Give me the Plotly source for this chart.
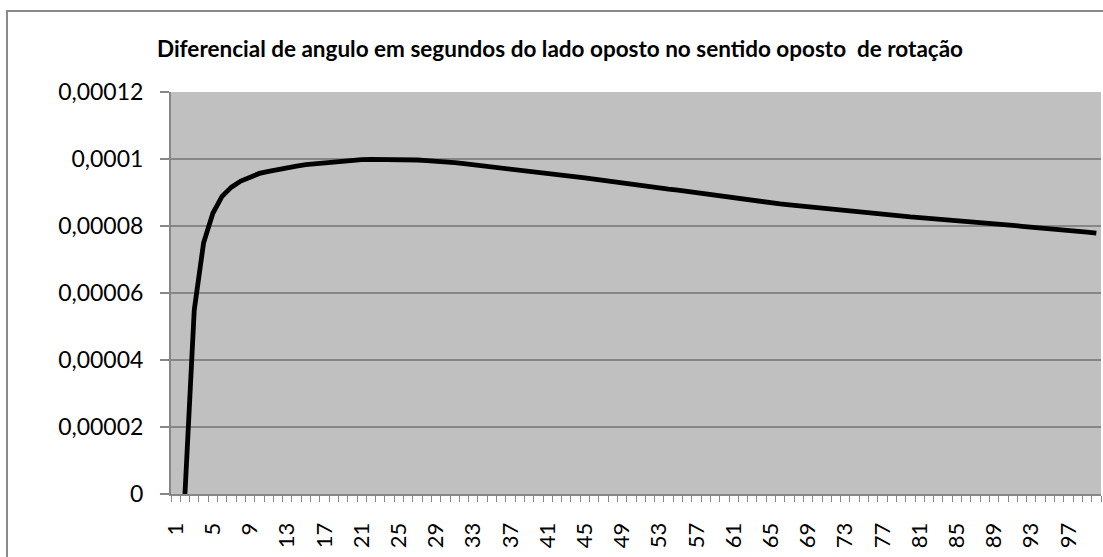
import plotly.graph_objects as go

# ---- data ----
categories = list(range(1, 101))
values = [
    None, 0.0, 0.0000549, 0.0000749, 0.0000838, 0.0000889, 0.0000916, 0.0000934, 0.0000947, 0.0000957,
    0.0000963, 0.0000969, 0.0000974, 0.0000979, 0.0000983, 0.0000986, 0.0000989, 0.0000992, 0.0000995, 0.0000997,
    0.0000998, 0.0000999, 0.0000999, 0.0000999, 0.0000999, 0.0000998, 0.0000997, 0.0000995, 0.0000994, 0.0000992,
    0.0000989, 0.0000986, 0.0000983, 0.0000980, 0.0000977, 0.0000974, 0.0000971, 0.0000968, 0.0000965, 0.0000962,
    0.0000958, 0.0000955, 0.0000951, 0.0000948, 0.0000944, 0.0000940, 0.0000936, 0.0000932, 0.0000928, 0.0000923,
    0.0000920, 0.0000917, 0.0000914, 0.0000910, 0.0000907, 0.0000903, 0.0000899, 0.0000895, 0.0000891, 0.0000887,
    0.0000883, 0.0000880, 0.0000876, 0.0000873, 0.0000869, 0.0000866, 0.0000863, 0.0000860, 0.0000858, 0.0000855,
    0.0000852, 0.0000849, 0.0000846, 0.0000844, 0.0000841, 0.0000838, 0.0000835, 0.0000833, 0.0000830, 0.0000827,
    0.0000825, 0.0000823, 0.0000820, 0.0000818, 0.0000816, 0.0000813, 0.0000811, 0.0000809, 0.0000806, 0.0000804,
    0.0000802, 0.0000799, 0.0000797, 0.0000794, 0.0000792, 0.0000790, 0.0000787, 0.0000785, 0.0000782, 0.0000779,
]
x_tick_vals = [1, 5, 9, 13, 17, 21, 25, 29, 33, 37, 41, 45, 49, 53, 57, 61, 65, 69, 73, 77, 81, 85, 89, 93, 97]
x_tick_text = ["1", "5", "9", "13", "17", "21", "25", "29", "33", "37", "41", "45", "49", "53", "57",
               "61", "65", "69", "73", "77", "81", "85", "89", "93", "97"]
y_tick_vals = [0, 0.00002, 0.00004, 0.00006, 0.00008, 0.0001, 0.00012]
y_tick_text = ["0", "0,00002", "0,00004", "0,00006", "0,00008", "0,0001", "0,00012"]
title_text = "Diferencial de angulo em segundos do lado oposto no sentido oposto  de rotação"

GRID = "#878787"

fig = go.Figure()
fig.add_trace(go.Scatter(
    x=categories, y=values, mode="lines",
    line=dict(color="#000000", width=4.8),
    connectgaps=False, showlegend=False, hoverinfo="skip",
))

L, R, T, B = 171, 2, 92, 63
W, H = 1103, 557
pw = W - L - R
ph = H - T - B

# outer chart border (Excel chart area), extends beyond the right/bottom of the image
fig.add_shape(type="rect", xref="paper", yref="paper",
              x0=(7 - L) / pw, x1=(1115 - L) / pw,
              y0=(494 - 600) / ph, y1=(494 - 11) / ph,
              line=dict(color="#8a8a8a", width=2), fillcolor="rgba(0,0,0,0)", layer="below")

fig.update_layout(
    width=W, height=H,
    margin=dict(l=L, r=R, t=T, b=B, pad=0),
    paper_bgcolor="#ffffff",
    plot_bgcolor="#c0c0c0",
    title=dict(text="<b>" + title_text + "</b>", x=560 / W, xanchor="center",
               y=1 - 49 / H, yanchor="middle", yref="container",
               font=dict(family="Lato", size=22.5, color="#000000")),
    xaxis=dict(
        range=[0.5, 100.5], tickmode="array", tickvals=x_tick_vals, ticktext=x_tick_text,
        tickangle=-90, ticks="", showgrid=False, zeroline=False,
        showline=True, linecolor=GRID, linewidth=2,
        tickfont=dict(family="Lato", size=22, color="#000000"),
        ticklabelstandoff=18,
        minor=dict(tick0=0.5, dtick=1, ticks="outside", ticklen=6, tickcolor=GRID, tickwidth=1, showgrid=False),
    ),
    yaxis=dict(
        range=[0, 0.00012], tickmode="array", tickvals=y_tick_vals, ticktext=y_tick_text,
        ticks="outside", ticklen=9, tickcolor=GRID, tickwidth=1.5,
        showgrid=True, gridcolor=GRID, gridwidth=1.5, zeroline=False,
        showline=True, linecolor=GRID, linewidth=2,
        tickfont=dict(family="Lato", size=23, color="#000000"),
        ticklabelstandoff=12,
    ),
)

fig.write_html("out.html", config={"displayModeBar": False},
               post_script="document.body.style.margin='0';document.body.style.overflow='hidden';")
